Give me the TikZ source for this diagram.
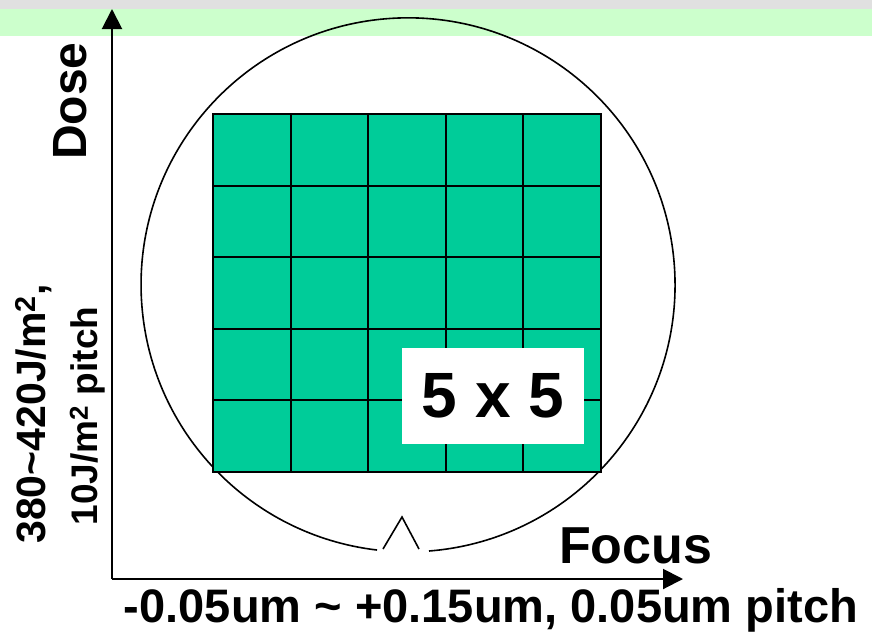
\documentclass[tikz,border=0pt]{standalone}
\usepackage{fontspec}
\setmainfont{Liberation Sans}
\usepackage{xcolor}
\usetikzlibrary{arrows.meta}
\definecolor{bandgray}{HTML}{E0E0E0}
\definecolor{bandgreen}{HTML}{CCFFCC}
\definecolor{fieldgreen}{HTML}{00CC99}
\newcommand{\fsize}[1]{\bfseries\fontsize{#1}{#1}\selectfont}

\begin{document}
\begin{tikzpicture}[x=1pt,y=-1pt,>={Triangle[length=20pt,width=20pt]},
		axisline/.style={line width=2pt,->},
		wafer/.style={line width=1.6pt},
		field/.style={fill=fieldgreen,draw=black,line width=2pt},
		axistext/.style={inner sep=0pt}]
		
		\useasboundingbox (0,0) rectangle (872,635);
		
		% Band along the top edge
		\fill[bandgray] (0,0) rectangle (872,9);
		\fill[bandgreen] (0,9) rectangle (872,36);
		
		% Wafer outline, open at the notch
		\draw[wafer] (429,551) arc[start angle=85.5, end angle=-263.33, radius=267];
		\draw[wafer] (383,549) -- (402,517) -- (419,549);
		
		% 5 x 5 exposure fields
		\foreach \col in {0,...,4} {
			\foreach \row in {0,...,4} {
				\draw[field] ({213+77.6*\col},{114+71.6*\row}) rectangle ++(77.6,71.6);
			}
		}
		\node[fill=white, inner sep=0pt, minimum width=182pt, minimum height=96pt,
		font=\fsize{64}] (gridsize) at (493,396) {5 x 5};
		
		% Axes
		\coordinate (origin) at (112,579);
		\coordinate (dosetip) at (112,9);
		\coordinate (focustip) at (683,579);
		\draw[axisline] (origin) -- (dosetip);
		\draw[axisline] (origin) -- (focustip);
		
		% Axis labels
		\node[axistext, rotate=90, anchor=base, font=\fsize{48}] (dose) at (86,101) {Dose};
		\node[axistext, rotate=90, anchor=base, font=\fsize{41}] (doserange) at (45,414)
		{380\textasciitilde420J/m\textsuperscript{2},};
		\node[axistext, rotate=90, anchor=base, font=\fsize{37}] (dosepitch) at (97,416)
		{10J/m\textsuperscript{2} pitch};
		\node[axistext, anchor=base west, font=\fsize{52}] (focus) at (559,563) {Focus};
		\node[axistext, anchor=base, font=\fsize{47}] (focusrange) at (491,622)
		{-0.05um \textasciitilde{} +0.15um, 0.05um pitch};
		
	\end{tikzpicture}
\end{document}
